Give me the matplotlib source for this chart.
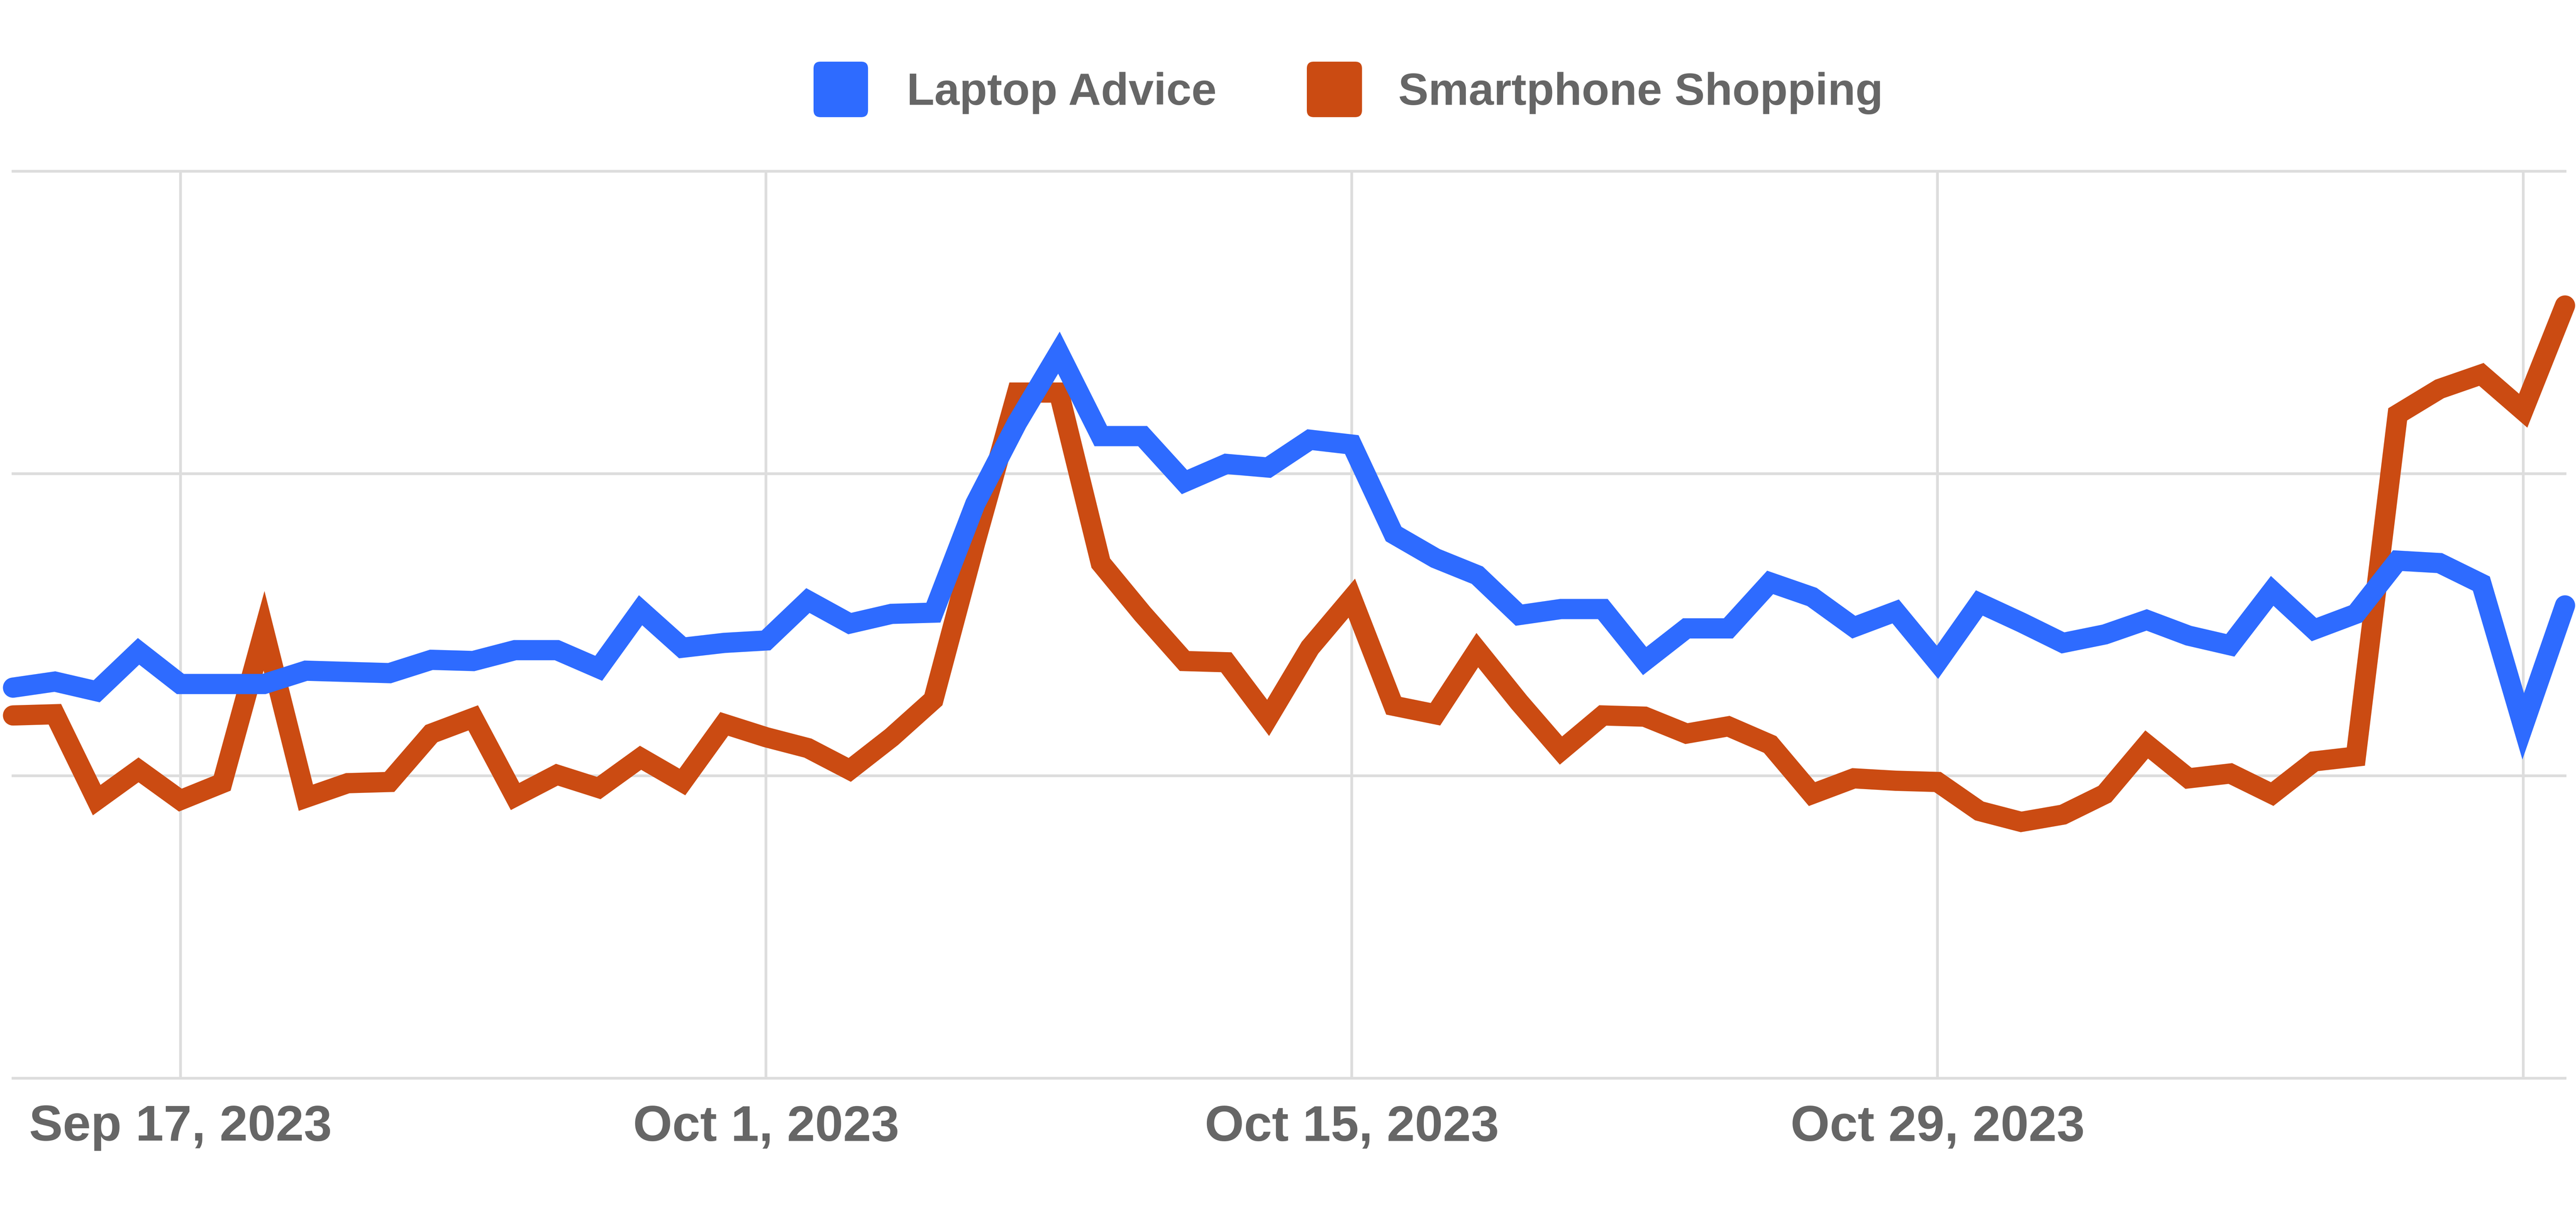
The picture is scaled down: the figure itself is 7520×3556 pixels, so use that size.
import matplotlib
matplotlib.use("Agg")
import matplotlib.pyplot as plt
import matplotlib.patches as mpatches
import matplotlib.transforms as mtransforms
import pandas as pd

# ---------------- data ----------------
dates = pd.date_range("2023-09-13", "2023-11-13", freq="D")

laptop_advice = [
    32.3, 32.8, 32.0, 35.3, 32.6, 32.6, 32.6, 33.7, 33.6, 33.5,
    34.6, 34.5, 35.4, 35.4, 33.9, 38.7, 35.6, 36.0, 36.2, 39.5,
    37.6, 38.4, 38.5, 47.5, 54.2, 60.0, 53.1, 53.1, 49.3, 50.8,
    50.5, 52.8, 52.4, 45.0, 43.0, 41.6, 38.3, 38.8, 38.8, 34.5,
    37.2, 37.2, 41.0, 39.8, 37.3, 38.6, 34.4, 39.3, 37.7, 36.0,
    36.7, 37.9, 36.6, 35.8, 40.3, 37.1, 38.4, 42.8, 42.6, 40.9,
    29.1, 39.1,
]

smartphone_shopping = [
    30.0, 30.1, 23.0, 25.5, 23.0, 24.4, 37.0, 23.2, 24.4, 24.5,
    28.5, 29.8, 23.3, 25.1, 24.0, 26.5, 24.5, 29.3, 28.2, 27.3,
    25.5, 28.2, 31.3, 44.3, 56.7, 56.7, 42.6, 38.4, 34.5, 34.4,
    29.8, 35.6, 39.7, 30.8, 30.1, 35.4, 31.1, 27.1, 30.0, 29.9,
    28.5, 29.1, 27.6, 23.5, 24.8, 24.6, 24.5, 22.1, 21.2, 21.8,
    23.5, 27.6, 24.8, 25.2, 23.5, 26.2, 26.6, 54.9, 57.0, 58.2,
    55.2, 63.9,
]

series_names = ["Laptop Advice", "Smartphone Shopping"]
tick_dates = ["2023-09-17", "2023-10-01", "2023-10-15", "2023-10-29", "2023-11-12"]
tick_labels = ["Sep 17, 2023", "Oct 1, 2023", "Oct 15, 2023", "Oct 29, 2023", ""]
y_ticks = [0, 25, 50, 75]

# ---------------- style ----------------
W, H, DPI = 7520, 3556, 500
BLUE = "#2E6BFF"
ORANGE = "#CB4B12"
GRID = "#DDDDDD"
TEXT = "#666666"
FONT = "Liberation Sans"

fig = plt.figure(figsize=(W / DPI, H / DPI), dpi=DPI)
fig.patch.set_facecolor("white")

left_px, right_px, top_px, bot_px = 38, 7488, 500, 3148
ax = fig.add_axes([left_px / W, 1 - bot_px / H,
                   (right_px - left_px) / W, (bot_px - top_px) / H])

lw = 59 / DPI * 72
ax.plot(dates, smartphone_shopping, color=ORANGE, lw=lw,
        solid_joinstyle="miter", solid_capstyle="round", zorder=3, clip_on=False)
ax.plot(dates, laptop_advice, color=BLUE, lw=lw,
        solid_joinstyle="miter", solid_capstyle="round", zorder=4, clip_on=False)

ax.set_xlim(dates[0], dates[-1])
ax.set_ylim(0, 75)
ax.set_yticks(y_ticks)
ax.set_yticklabels([])
ax.set_xticks([pd.Timestamp(d) for d in tick_dates])
ax.set_xticklabels(tick_labels)

for s in ax.spines.values():
    s.set_visible(False)

glw = 8 / DPI * 72
ax.grid(True, color=GRID, lw=glw, zorder=0)
ax.set_axisbelow(True)
for gl in ax.get_xgridlines() + ax.get_ygridlines():
    gl.set_clip_on(False)

ax.tick_params(axis="both", length=0)
ax.tick_params(axis="x", pad=11.0, labelsize=21.2, labelcolor=TEXT)
for lab in ax.get_xticklabels():
    lab.set_fontfamily(FONT)
    lab.set_fontweight("bold")

# ---------------- legend ----------------
ident = mtransforms.IdentityTransform()
sq_y0 = H - 342
sq_h = 162
for x0, w, col in [(2375, 159, BLUE), (3815, 161, ORANGE)]:
    p = mpatches.FancyBboxPatch((x0, sq_y0), w, sq_h,
                                boxstyle="round,pad=0,rounding_size=20",
                                facecolor=col, edgecolor="none",
                                transform=ident)
    fig.add_artist(p)

text_base = 1 - 306 / H
fig.text(2647 / W, text_base, series_names[0], fontsize=19.0, fontweight="bold",
         family=FONT, color=TEXT, ha="left", va="baseline")
fig.text(4082 / W, text_base, series_names[1], fontsize=19.0, fontweight="bold",
         family=FONT, color=TEXT, ha="left", va="baseline")

fig.savefig("out.png", dpi=DPI, facecolor="white")
